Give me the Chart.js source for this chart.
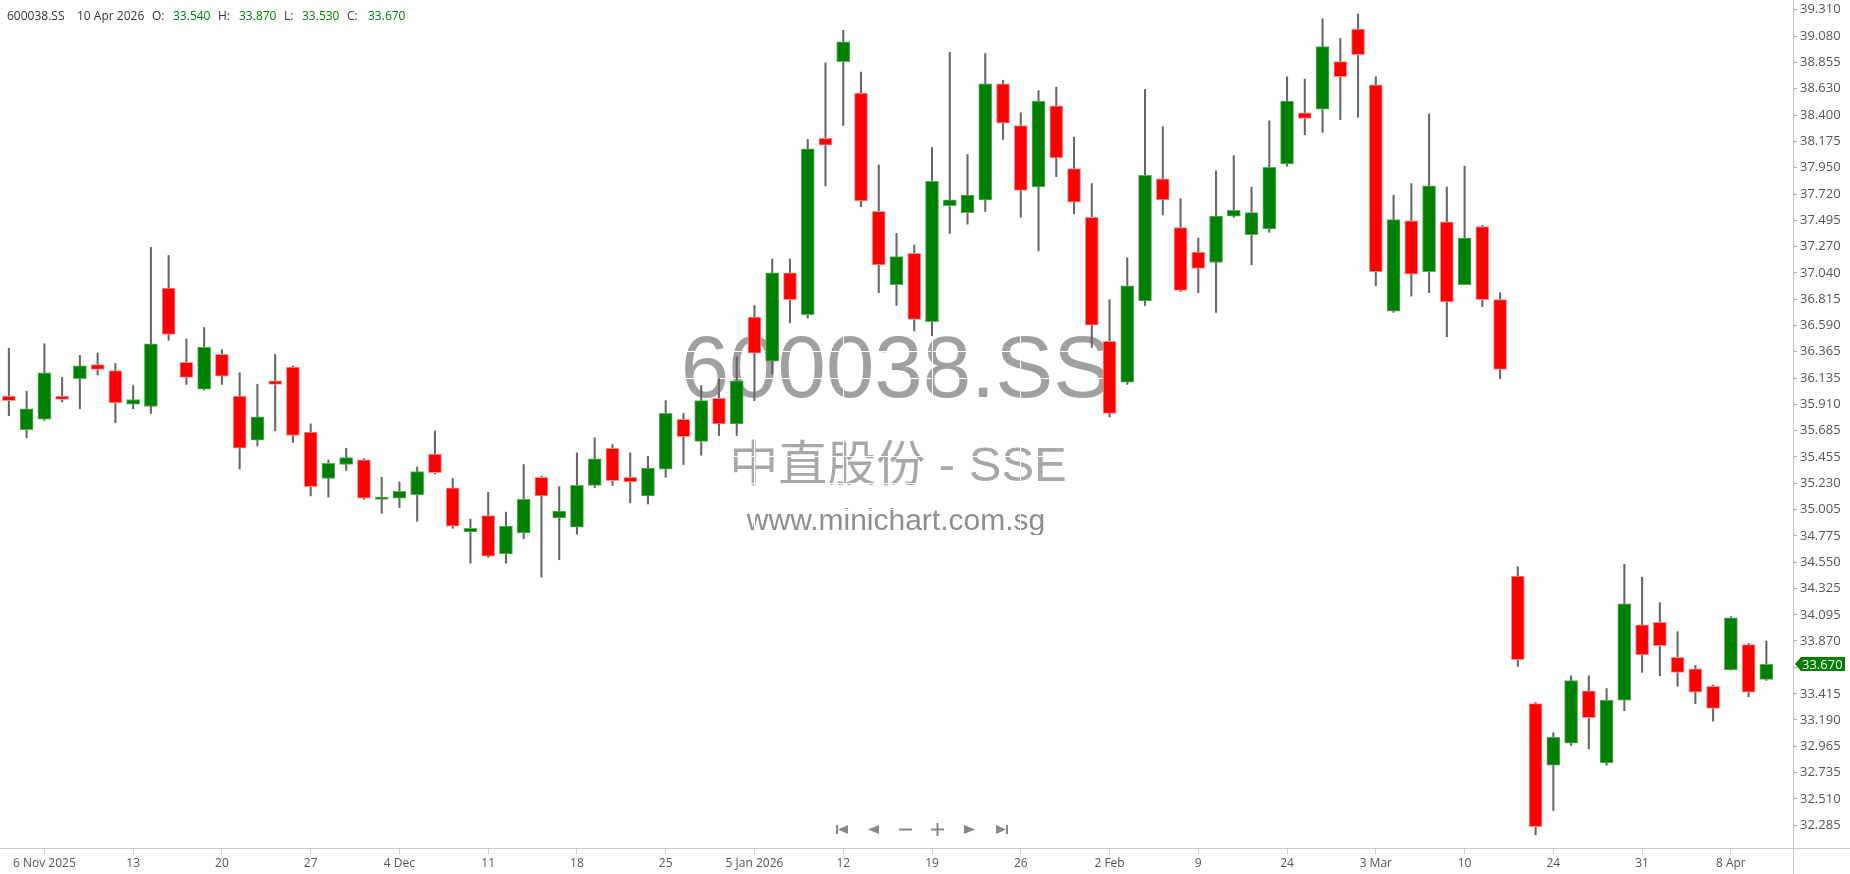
<!DOCTYPE html>
<html>
<head>
<meta charset="utf-8">
<script src="https://cdn.jsdelivr.net/npm/chart.js@4.4.1/dist/chart.umd.min.js"></script>
<style>
html, body { margin: 0; padding: 0; background: #fff; }
#wrap { position: relative; width: 1850px; height: 874px; overflow: hidden; font-family: 'Open Sans', sans-serif; }
#chart { position: absolute; left: 0; top: 0; }
.hd { position: absolute; top: 8px; font-size: 12px; line-height: 16px; color: #333; white-space: nowrap; }
.hd.v { color: #008000; }
#nav { position: absolute; left: 0; top: 0; pointer-events: none; }
</style>
</head>
<body>
<div id="wrap">
  <canvas id="chart" width="1850" height="874"></canvas>
  <span class="hd" style="left:7px">600038.SS</span>
  <span class="hd" style="left:77px">10 Apr 2026</span>
  <span class="hd" style="left:152px">O:</span>
  <span class="hd v" style="left:173px">33.540</span>
  <span class="hd" style="left:218px">H:</span>
  <span class="hd v" style="left:239px">33.870</span>
  <span class="hd" style="left:284px">L:</span>
  <span class="hd v" style="left:302px">33.530</span>
  <span class="hd" style="left:347px">C:</span>
  <span class="hd v" style="left:368px">33.670</span>
  <svg id="nav" width="1850" height="874">
    <g fill="#888">
      <rect x="836" y="825" width="2" height="9"/>
      <polygon points="838,829.5 848,825 848,834"/>
      <polygon points="868,829.5 879,825 879,834"/>
      <rect x="899" y="828.5" width="13" height="2"/>
      <rect x="931" y="828.5" width="13" height="2"/>
      <rect x="936.5" y="823" width="2" height="13"/>
      <polygon points="975,829.5 964,825 964,834"/>
      <polygon points="1006,829.5 996,825 996,834"/>
      <rect x="1006" y="825" width="2" height="9"/>
    </g>
  </svg>
</div>
<script>
// trading days shown on the chart
const dates = [
  '2025-11-04','2025-11-05','2025-11-06','2025-11-07','2025-11-10','2025-11-11','2025-11-12','2025-11-13','2025-11-14','2025-11-17',
  '2025-11-18','2025-11-19','2025-11-20','2025-11-21','2025-11-24','2025-11-25','2025-11-26','2025-11-27','2025-11-28','2025-12-01',
  '2025-12-02','2025-12-03','2025-12-04','2025-12-05','2025-12-08','2025-12-09','2025-12-10','2025-12-11','2025-12-12','2025-12-15',
  '2025-12-16','2025-12-17','2025-12-18','2025-12-19','2025-12-22','2025-12-23','2025-12-24','2025-12-25','2025-12-26','2025-12-29',
  '2025-12-30','2025-12-31','2026-01-05','2026-01-06','2026-01-07','2026-01-08','2026-01-09','2026-01-12','2026-01-13','2026-01-14',
  '2026-01-15','2026-01-16','2026-01-19','2026-01-20','2026-01-21','2026-01-22','2026-01-23','2026-01-26','2026-01-27','2026-01-28',
  '2026-01-29','2026-01-30','2026-02-02','2026-02-03','2026-02-04','2026-02-05','2026-02-06','2026-02-09','2026-02-10','2026-02-11',
  '2026-02-12','2026-02-13','2026-02-24','2026-02-25','2026-02-26','2026-02-27','2026-03-02','2026-03-03','2026-03-04','2026-03-05',
  '2026-03-06','2026-03-09','2026-03-10','2026-03-11','2026-03-12','2026-03-20','2026-03-23','2026-03-24','2026-03-25','2026-03-26',
  '2026-03-27','2026-03-30','2026-03-31','2026-04-01','2026-04-02','2026-04-03','2026-04-07','2026-04-08','2026-04-09','2026-04-10'
];

const tickLabels = {
  '2025-11-06': '6 Nov 2025', '2025-11-13': '13', '2025-11-20': '20', '2025-11-27': '27',
  '2025-12-04': '4 Dec', '2025-12-11': '11', '2025-12-18': '18', '2025-12-25': '25',
  '2026-01-05': '5 Jan 2026', '2026-01-12': '12', '2026-01-19': '19', '2026-01-26': '26',
  '2026-02-02': '2 Feb', '2026-02-09': '9', '2026-02-24': '24', '2026-03-03': '3 Mar',
  '2026-03-10': '10', '2026-03-24': '24', '2026-03-31': '31', '2026-04-08': '8 Apr'
};

const opens = [
  35.98, 35.69, 35.78, 35.98, 36.13, 36.25, 36.20, 35.91, 35.89, 36.91,
  36.27, 36.04, 36.34, 35.98, 35.60, 36.11, 36.23, 35.67, 35.27, 35.39,
  35.43, 35.09, 35.10, 35.13, 35.48, 35.19, 34.81, 34.95, 34.62, 34.80,
  35.28, 34.93, 34.85, 35.21, 35.53, 35.28, 35.12, 35.35, 35.78, 35.59,
  35.96, 35.74, 36.66, 36.28, 37.04, 36.68, 38.20, 38.86, 38.59, 37.57,
  36.94, 37.21, 36.62, 37.62, 37.56, 37.67, 38.67, 38.31, 37.78, 38.48,
  37.94, 37.52, 36.45, 36.10, 36.80, 37.85, 37.43, 37.22, 37.13, 37.53,
  37.37, 37.42, 37.98, 38.42, 38.45, 38.86, 39.14, 38.66, 36.71, 37.49,
  37.05, 37.48, 36.94, 37.44, 36.81, 34.43, 33.33, 32.80, 32.99, 33.44,
  32.82, 33.36, 34.01, 34.03, 33.73, 33.63, 33.48, 33.62, 33.84, 33.54
];
const highs = [
  36.39, 36.02, 36.43, 36.14, 36.33, 36.35, 36.26, 36.07, 37.26, 37.19,
  36.47, 36.57, 36.38, 36.18, 36.08, 36.34, 36.24, 35.74, 35.43, 35.53,
  35.44, 35.28, 35.24, 35.37, 35.68, 35.27, 34.92, 35.15, 34.98, 35.39,
  35.29, 35.20, 35.49, 35.62, 35.56, 35.49, 35.46, 35.94, 35.83, 36.07,
  36.13, 36.32, 36.76, 37.16, 37.16, 38.19, 38.85, 39.13, 38.77, 37.97,
  37.38, 37.28, 38.12, 38.94, 38.06, 38.93, 38.70, 38.42, 38.61, 38.64,
  38.21, 37.81, 36.81, 37.17, 38.62, 38.30, 37.68, 37.34, 37.92, 38.05,
  37.78, 38.35, 38.73, 38.71, 39.23, 39.06, 39.27, 38.73, 37.71, 37.81,
  38.41, 37.78, 37.96, 37.45, 36.87, 34.51, 33.34, 33.08, 33.57, 33.57,
  33.46, 34.53, 34.42, 34.20, 33.95, 33.66, 33.49, 34.08, 33.85, 33.87
];
const lows = [
  35.81, 35.62, 35.77, 35.93, 35.87, 36.16, 35.75, 35.87, 35.83, 36.46,
  36.08, 36.03, 36.08, 35.35, 35.55, 35.68, 35.58, 35.12, 35.11, 35.34,
  35.09, 34.97, 35.02, 34.90, 35.31, 34.84, 34.54, 34.59, 34.54, 34.75,
  34.42, 34.57, 34.79, 35.19, 35.21, 35.06, 35.05, 35.28, 35.39, 35.47,
  35.64, 35.64, 35.94, 36.17, 36.61, 36.65, 37.79, 38.31, 37.61, 36.87,
  36.76, 36.54, 36.50, 37.38, 37.46, 37.57, 38.19, 37.52, 37.23, 37.87,
  37.55, 36.40, 35.80, 36.08, 36.76, 37.54, 36.88, 36.87, 36.70, 37.52,
  37.11, 37.39, 37.96, 38.23, 38.25, 38.36, 38.38, 36.93, 36.70, 36.84,
  36.87, 36.49, 36.94, 36.75, 36.13, 33.65, 32.20, 32.41, 32.97, 32.94,
  32.80, 33.27, 33.60, 33.57, 33.48, 33.33, 33.18, 33.62, 33.39, 33.53
];
const closes = [
  35.94, 35.87, 36.18, 35.95, 36.24, 36.21, 35.92, 35.95, 36.43, 36.51,
  36.14, 36.40, 36.15, 35.53, 35.80, 36.08, 35.64, 35.20, 35.40, 35.45,
  35.10, 35.11, 35.16, 35.33, 35.32, 34.86, 34.84, 34.60, 34.86, 35.09,
  35.12, 34.99, 35.21, 35.44, 35.25, 35.24, 35.36, 35.83, 35.63, 35.94,
  35.74, 36.11, 36.35, 37.04, 36.81, 38.11, 38.14, 39.03, 37.66, 37.11,
  37.18, 36.64, 37.83, 37.67, 37.71, 38.67, 38.33, 37.75, 38.52, 38.03,
  37.65, 36.59, 35.83, 36.93, 37.88, 37.67, 36.89, 37.08, 37.53, 37.58,
  37.56, 37.95, 38.52, 38.37, 38.99, 38.73, 38.92, 37.05, 37.50, 37.03,
  37.79, 36.79, 37.34, 36.81, 36.21, 33.71, 32.27, 33.04, 33.53, 33.21,
  33.36, 34.19, 33.75, 33.83, 33.60, 33.43, 33.29, 34.07, 33.43, 33.67
];

const yTicks = [
  39.310, 39.080, 38.855, 38.630, 38.400, 38.175, 37.950, 37.720, 37.495, 37.270,
  37.040, 36.815, 36.590, 36.365, 36.135, 35.910, 35.685, 35.455, 35.230, 35.005,
  34.775, 34.550, 34.325, 34.095, 33.870, 33.640, 33.415, 33.190, 32.965, 32.735,
  32.510, 32.285
];

const UP = '#008000', DOWN = '#ff0000';
const isUp = i => closes[i] >= opens[i];

const bodies = opens.map((o, i) => ({ x: i, y: [o, closes[i]] }));
const wicks = lows.map((l, i) => ({ x: i, y: [l, highs[i]] }));

Chart.defaults.font.family = "'Open Sans', sans-serif";

// watermark behind the candles
const watermark = {
  id: 'watermark',
  beforeDraw(chart) {
    const c = chart.ctx;
    c.save();
    c.textAlign = 'center';
    c.textBaseline = 'alphabetic';
    c.fillStyle = '#a0a0a0';
    c.font = "87px 'Liberation Sans', Arial, sans-serif";
    c.fillText('600038.SS', 896, 397);
    c.fillStyle = '#a8a8a8';
    c.font = "49px 'Liberation Sans', 'Noto Sans CJK SC', sans-serif";
    c.fillText('中直股份 - SSE', 898, 481);
    c.fillStyle = '#8e8e8e';
    c.font = "30px 'Liberation Sans', Arial, sans-serif";
    c.fillText('www.minichart.com.sg', 896, 530);
    c.restore();
  }
};

// axis line extensions + last price tag
const lastTag = {
  id: 'lastTag',
  afterDraw(chart) {
    const c = chart.ctx, a = chart.chartArea;
    c.save();
    c.strokeStyle = '#c8c8c8';
    c.lineWidth = 1;
    c.beginPath();
    c.moveTo(a.right, a.bottom + 0.5); c.lineTo(chart.width, a.bottom + 0.5);
    c.moveTo(a.right + 0.5, a.bottom); c.lineTo(a.right + 0.5, chart.height);
    c.stroke();

    const last = closes.length - 1;
    const y = Math.round(chart.scales.y.getPixelForValue(closes[last]));
    const x0 = a.right + 2;
    c.fillStyle = isUp(last) ? UP : DOWN;
    c.beginPath();
    c.moveTo(x0, y);
    c.lineTo(x0 + 6, y - 7);
    c.lineTo(x0 + 50, y - 7);
    c.lineTo(x0 + 50, y + 7);
    c.lineTo(x0 + 6, y + 7);
    c.closePath();
    c.fill();
    c.fillStyle = '#fff';
    c.font = "13px 'Open Sans', sans-serif";
    c.textAlign = 'left';
    c.textBaseline = 'middle';
    c.fillText(closes[last].toFixed(3), x0 + 7, y + 1);
    c.restore();
  }
};

new Chart(document.getElementById('chart'), {
  type: 'bar',
  data: {
    datasets: [
      {
        label: 'body',
        data: bodies,
        order: 0,
        grouped: false,
        barThickness: 13,
        borderWidth: 1,
        borderSkipped: false,
        backgroundColor: ctx => isUp(ctx.dataIndex) ? UP : DOWN,
        borderColor: ctx => isUp(ctx.dataIndex) ? '#5cad5c' : '#ff9090'
      },
      {
        label: 'wick',
        data: wicks,
        order: 1,
        grouped: false,
        barThickness: 1.4,
        borderWidth: 0,
        backgroundColor: '#666'
      }
    ]
  },
  options: {
    responsive: false,
    animation: false,
    events: [],
    layout: { padding: 0 },
    plugins: {
      legend: { display: false },
      tooltip: { enabled: false }
    },
    scales: {
      x: {
        type: 'linear',
        offset: false,
        min: -0.5,
        max: dates.length + 0.5,
        afterBuildTicks: s => {
          s.ticks = dates.map((d, i) => ({ value: i })).filter(t => tickLabels[dates[t.value]]);
        },
        afterFit: s => { s.height = 26; s.paddingLeft = 0; s.paddingRight = 0; },
        ticks: {
          autoSkip: false,
          maxRotation: 0,
          padding: 2,
          color: '#555',
          font: { size: 12 },
          callback: v => tickLabels[dates[v]] || ''
        },
        grid: { offset: false, color: '#ffffff', tickColor: '#cccccc', tickLength: 6 },
        border: { color: '#c8c8c8' }
      },
      y: {
        position: 'right',
        min: 32.087,
        max: 39.391,
        afterBuildTicks: s => { s.ticks = yTicks.map(v => ({ value: v })); },
        afterFit: s => { s.width = 57; s.paddingTop = 0; s.paddingBottom = 0; },
        ticks: {
          padding: 3,
          color: '#555',
          font: { size: 13 },
          callback: v => v.toFixed(3)
        },
        grid: { color: '#ffffff', tickColor: '#aaaaaa', tickLength: 4 },
        border: { color: '#c8c8c8' }
      }
    }
  },
  plugins: [watermark, lastTag]
});
</script>
</body>
</html>
